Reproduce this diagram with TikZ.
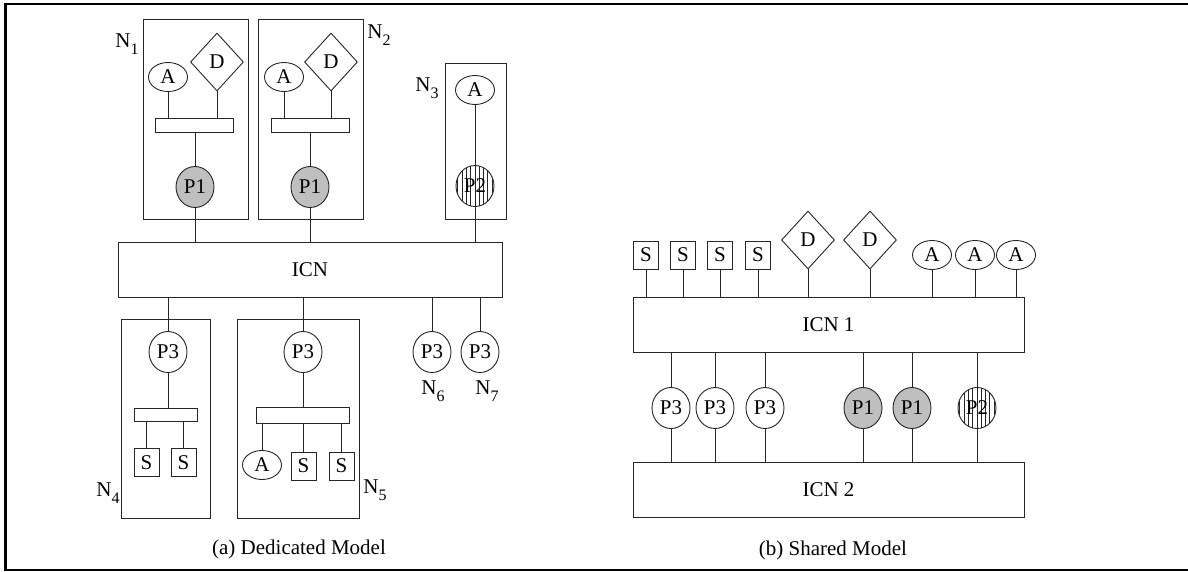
\documentclass[tikz,border=0pt]{standalone}
\usepackage{fontspec}
\setmainfont{Liberation Serif}
\usetikzlibrary{shapes.geometric}

\newcommand{\nlab}[1]{N\raisebox{-0.32em}{\fontsize{16}{16}\selectfont #1}}

\tikzset{
  every node/.style={font=\fontsize{21}{24}\selectfont, inner sep=0pt},
  ln/.style={draw=black!85, line width=0.9pt},
  box/.style={ln, rectangle},
  unitA/.style={ln, ellipse, minimum width=39pt, minimum height=29pt},
  unitD/.style={ln, diamond, minimum width=53pt, minimum height=58pt},
  unitS/.style={ln, rectangle, minimum width=25pt, minimum height=28pt},
  proc/.style={ln, ellipse, minimum width=38pt, minimum height=41pt},
  procA/.style={proc, fill=black!25},
  procB/.style={proc, fill=white, path picture={
      \foreach \k in {-4,...,4}
        \draw[line width=0.9pt]
          ([xshift=\k*4.3pt]path picture bounding box.south) --
          ([xshift=\k*4.3pt]path picture bounding box.north);}},
  procC/.style={proc, fill=white},
  link/.style={draw=black!85, line width=0.9pt},
  captext/.style={font=\fontsize{21}{24}\selectfont},
}

\begin{document}
\begin{tikzpicture}[x=1pt, y=-1pt]
\useasboundingbox (0,0) rectangle (1188,571);

% outer frame (open on the right)
\draw[line width=2.5pt] (1188,4.2) -- (5.3,4.2) -- (5.3,570);
\draw[line width=1.4pt] (4,569.8) -- (1188,569.8);

% ---------------- (a) dedicated model ----------------
\draw[box] (143,19) rectangle (248,219);
\draw[box] (258,19) rectangle (363,219);
\draw[box] (445,63) rectangle (506,219);
\draw[box] (121,319) rectangle (210,518);
\draw[box] (237,319) rectangle (359,518);

\node[box, minimum width=384pt, minimum height=55pt] (icn) at (310,269.5) {ICN};

% node N1
\node[unitA] (n1a) at (168,77) {A};
\node[unitD] (n1d) at (217,62) {D};
\node[box, minimum width=78pt, minimum height=14pt] (n1bar) at (194,125) {};
\node[procA] (n1p) at (195,187) {P1};
% node N2
\node[unitA] (n2a) at (284,77) {A};
\node[unitD] (n2d) at (331,62) {D};
\node[box, minimum width=78pt, minimum height=14pt] (n2bar) at (310,125) {};
\node[procA] (n2p) at (310,187) {P1};
% node N3
\node[unitA] (n3a) at (475,90) {A};
\node[procB] (n3p) at (475,186) {P2};
% node N4
\node[procC] (n4p) at (168,352) {P3};
\node[box, minimum width=63pt, minimum height=13pt] (n4bar) at (165.5,414.5) {};
\node[unitS] (n4s1) at (146.5,462.5) {S};
\node[unitS] (n4s2) at (183.5,462.5) {S};
% node N5
\node[procC] (n5p) at (303,352) {P3};
\node[box, minimum width=93pt, minimum height=16pt] (n5bar) at (302.5,415) {};
\node[unitA] (n5a) at (262,465) {A};
\node[unitS] (n5s1) at (303.5,466) {S};
\node[unitS] (n5s2) at (341.5,466) {S};
% nodes N6, N7
\node[procC] (n6p) at (432,352) {P3};
\node[procC] (n7p) at (480,352) {P3};

% links inside the nodes
\foreach \u/\b in {n1a/n1bar, n1d/n1bar, n2a/n2bar, n2d/n2bar}
  \draw[link] (\u.south) -- (\u.south |- \b.north);
\draw[link] (n1bar.south -| n1p.north) -- (n1p.north);
\draw[link] (n2bar.south -| n2p.north) -- (n2p.north);
\draw[link] (n3a.south) -- (n3p.north);
\draw[link] (n4p.south) -- (n4p.south |- n4bar.north);
\draw[link] (n5p.south) -- (n5p.south |- n5bar.north);
\foreach \u/\b in {n4s1/n4bar, n4s2/n4bar, n5a/n5bar, n5s1/n5bar, n5s2/n5bar}
  \draw[link] (\u.north) -- (\u.north |- \b.south);
% links to the interconnection network
\foreach \p in {n1p, n2p, n3p}
  \draw[link] (\p.south) -- (\p.south |- icn.north);
\foreach \p in {n4p, n5p, n6p, n7p}
  \draw[link] (\p.north) -- (\p.north |- icn.south);

% labels
\node (l1) at (127,44) {\nlab{1}};
\node (l2) at (379,35) {\nlab{2}};
\node (l3) at (427,88) {\nlab{3}};
\node (l4) at (108,493) {\nlab{4}};
\node (l5) at (375,490) {\nlab{5}};
\node (l6) at (433,391) {\nlab{6}};
\node (l7) at (487,391) {\nlab{7}};

\node[captext] (capa) at (299,549) {(a) Dedicated Model};

% ---------------- (b) shared model ----------------
\node[box, minimum width=391pt, minimum height=55pt] (icn1) at (828.5,324.5) {ICN 1};
\node[box, minimum width=391pt, minimum height=55pt] (icn2) at (828.5,489.5) {ICN 2};

\node[unitS] (s1) at (646,255) {S};
\node[unitS] (s2) at (683,255) {S};
\node[unitS] (s3) at (720,255) {S};
\node[unitS] (s4) at (758,255) {S};
\node[unitD] (d1) at (808,240) {D};
\node[unitD] (d2) at (870,240) {D};
\node[unitA] (a1) at (932,255) {A};
\node[unitA] (a2) at (975,255) {A};
\node[unitA] (a3) at (1016,255) {A};

\foreach \u in {s1,s2,s3,s4,d1,d2,a1,a2,a3}
  \draw[link] (\u.south) -- (\u.south |- icn1.north);

\node[procC] (q1) at (671,408) {P3};
\node[procC] (q2) at (715,408) {P3};
\node[procC] (q3) at (765,408) {P3};
\node[procA] (q4) at (863,408) {P1};
\node[procA] (q5) at (912,408) {P1};
\node[procB] (q6) at (977,408) {P2};

\foreach \p in {q1,q2,q3,q4,q5,q6} {
  \draw[link] (\p.north) -- (\p.north |- icn1.south);
  \draw[link] (\p.south) -- (\p.south |- icn2.north);
}

\node[captext] (capb) at (833,550) {(b) Shared Model};
\end{tikzpicture}
\end{document}
